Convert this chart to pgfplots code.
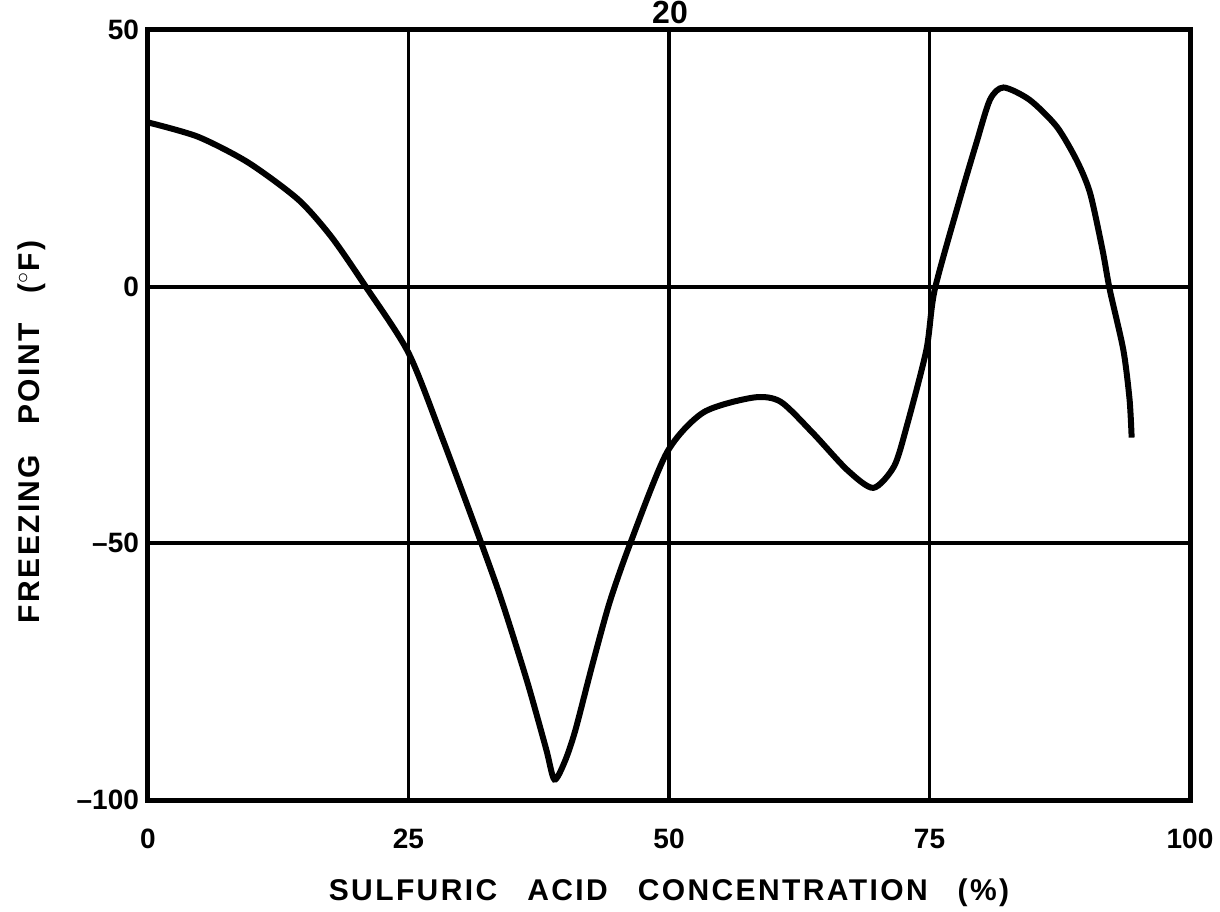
\documentclass[border=0pt]{standalone}
\usepackage{pgfplots}
\pgfplotsset{compat=1.18}
\usepackage{fontspec}
\setmainfont{Liberation Sans}
\begin{document}
\begin{tikzpicture}
\useasboundingbox (-74pt,-55.5pt) rectangle (536pt,400pt);
\begin{axis}[
  scale only axis,
  width=521pt, height=385pt,
  xmin=0, xmax=100, ymin=-100, ymax=50,
  xtick={0,25,50,75,100},
  ytick={-100,-50,0,50},
  yticklabels={\textendash100,\textendash50,0,50},
  xticklabels={0,25,50,75,100},
  major tick length=0pt,
  grid=major,
  grid style={black, line width=1.9pt},
  axis line style={black, line width=2.5pt},
  tick label style={font=\bfseries\fontsize{14}{15}\selectfont},
  xticklabel style={yshift=-11pt},
  yticklabel style={xshift=-1pt},
  xlabel={\bfseries\addfontfeature{LetterSpace=8}SULFURIC\quad ACID\quad CONCENTRATION\quad (\%)},
  xlabel style={font=\fontsize{15}{16}\selectfont, at={(axis description cs:0.5,0)}, anchor=north, yshift=-36pt},
  ylabel={\bfseries\addfontfeature{LetterSpace=8}FREEZING\quad POINT\quad ($^\circ$F)},
  ylabel style={font=\fontsize{15}{16}\selectfont, at={(axis description cs:-0.112,0.478)}, anchor=center},
  clip=false,
]
\addplot[black, line width=3pt, smooth, tension=0.45] coordinates {
(0,32) (4.8,29.2) (9.6,24.2) (14.4,17) (17.6,9.7) (20.9,0) (25,-12.9)
(28.3,-29.8) (32.1,-50.6) (34,-61.5) (36.4,-77) (38.2,-90) (39,-96)
(40,-92.5) (41,-86.5) (42.6,-74) (44.3,-61.5) (46.3,-49.9) (49.8,-32.3) (53.3,-24.5) (58.1,-21.6)
(60.7,-22.4) (63.8,-28.5) (67.1,-35.7) (69.6,-39.2) (71.6,-35) (72.8,-27.3)
(74.7,-12.3) (75.5,-0.6) (77.9,17) (79.5,28) (80.8,36.4) (82.1,38.8)
(84.6,36.4) (87.2,31.2) (89.1,24.7) (90.4,18.3) (91.6,7.2) (92.3,-0.6)
(93.6,-12.3) (94.2,-22) (94.4,-29.4)
};
\end{axis}
\node[anchor=north, inner sep=0pt, font=\bfseries\fontsize{16}{17}\selectfont] at (261pt,399.5pt) {20};
\end{tikzpicture}
\end{document}
